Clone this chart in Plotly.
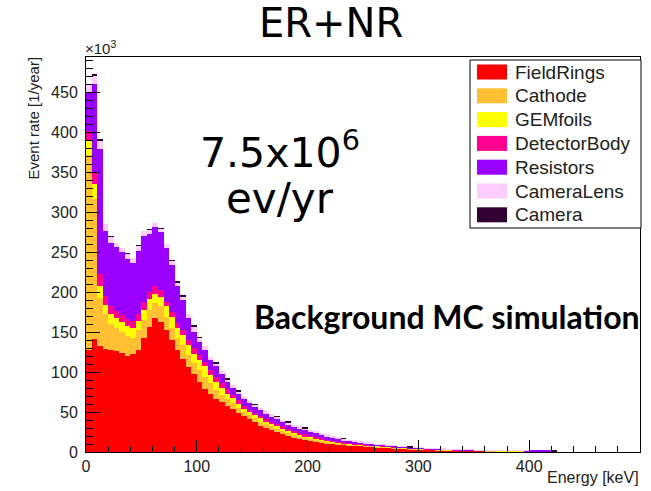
import plotly.graph_objects as go

# ---------------- data (event rate in units of 10^3 / year, 5 keV bins) ----------------
bin_width_kev = 5
energy_min_kev = 0
energy_max_kev = 500

field_rings = [127, 141, 132, 129, 128, 126, 124, 120, 122, 128,
               142, 156, 167, 163, 152, 140, 127, 116, 106, 97,
               88, 79, 72, 66, 62, 58, 54, 49, 45, 41,
               37, 33, 30, 27, 25, 22, 20, 18, 16, 15,
               14, 13, 12, 11, 10, 9.5, 9, 8.5, 8, 7.5,
               7, 6.5, 6, 5.5, 5, 4.6, 4.2, 3.9, 3.6, 3.3,
               3.0, 2.8, 2.6, 2.4, 2.2, 2.0, 1.9, 1.7, 1.6, 1.5,
               1.4, 1.3, 1.2, 1.1, 1.0, 0.9, 0.8, 0.7, 0.6, 0.5,
               0.4, 0.4, 0.3, 0.3, 0.2]

cathode = [244, 176, 60, 43, 32, 29, 26, 25, 21, 24,
           23, 22, 19, 19, 17, 15, 15, 18, 15, 14,
           14, 15, 14, 12, 9, 8, 7, 6, 5, 5,
           5, 5, 5, 5, 4, 4, 4, 4, 4, 3,
           3, 3, 2, 2, 2, 1.5, 1, 1, 1, 1,
           1, 1, 1, 1, 1, 0.8, 0.8, 0.7, 0.6, 0.6,
           0.6, 0.5, 0.5, 0.4, 0.4, 0.4, 0.3, 0.3, 0.3, 0.3,
           0.2, 0.2, 0.2, 0.2, 0.2, 0.2, 0.2, 0.2, 0.2, 0.2,
           0.2, 0.1, 0.1, 0.1, 0.1]

gem_foils = [19, 18, 15, 12, 12, 12, 12, 12, 12, 12,
             13, 13, 12, 12, 13, 14, 13, 12, 13, 12,
             13, 13, 10, 10, 9, 7, 6, 5, 4, 4,
             4, 4, 3, 3, 3, 3, 3, 2, 2, 2,
             2, 1, 2, 1, 1, 1, 1, 0.5, 0.5, 0.5,
             0.5, 0.5, 0.5, 0.5, 0.5, 0.6, 0.5, 0.4, 0.4, 0.3,
             0.3, 0.3, 0.2, 0.3, 0.2, 0.2, 0.2, 0.2, 0.2, 0.1,
             0.2, 0.2, 0.2, 0.2, 0.2, 0.4, 0.5, 0.5, 0.5, 0.5,
             0.2, 0.2, 0.2, 0.1, 0.1]

detector_body = [12, 15, 15, 11, 11, 9, 9, 9, 9, 9,
                 9, 9, 9, 8, 6, 6, 6, 6, 6, 7,
                 6, 6, 6, 6, 6, 6, 4, 5, 4, 3,
                 3, 3, 3, 3, 3, 3, 2, 2, 2, 2,
                 1, 2, 1, 1, 1, 1, 1, 1, 0.5, 0.5,
                 0.5, 0.5, 0.5, 0.5, 0.5, 0.3, 0.3, 0.3, 0.3, 0.3,
                 0.2, 0.2, 0.2, 0.1, 0.2, 0.2, 0.2, 0.2, 0.1, 0.1,
                 0.1, 0.1, 0.1, 0.1, 0.1, 0.1, 0, 0, 0, 0,
                 0.1, 0.1, 0.1, 0.1, 0.1]

resistors = [48, 110, 157, 82, 79, 80, 79, 76, 72, 79,
             83, 73, 75, 73, 67, 59, 46, 38, 27, 20,
             17, 15, 13, 13, 11, 8, 9, 8, 8, 8,
             7, 7, 7, 7, 6, 6, 6, 6, 6, 6,
             6, 5, 5, 5, 4, 4, 3, 3, 3, 2.5,
             2, 1.5, 1.5, 1.5, 1, 1.2, 1.2, 1.1, 1.0, 0.9,
             0.9, 0.8, 0.7, 0.7, 0.6, 0.5, 0.5, 0.5, 0.5, 0.5,
             0.4, 0.3, 0.3, 0.3, 0.3, 0.1, 0.1, 0.1, 0.1, 0.1,
             0.6, 0.7, 0.7, 0.7, 0.7]

camera_lens = [9, 11, 11, 8, 7, 5, 5, 6, 7, 6,
               6, 5, 5, 4, 5, 5, 5, 5, 5, 7,
               5, 4, 4, 4, 4, 4, 4, 3, 3, 3,
               3, 3, 3, 2, 3, 2, 2, 2, 2, 2,
               2, 2, 2, 2, 2, 1, 1.5, 1, 1, 1,
               1, 1, 0.5, 0.5, 0.5, 0.5, 0.4, 0.4, 0.3, 0.3,
               0.2, 0.2, 0.2, 0.2, 0.2, 0.2, 0.1, 0.1, 0.1, 0.1,
               0.1, 0.1, 0.1, 0.1, 0.1, 0.1, 0.1, 0.1, 0.1, 0.1,
               0, 0, 0, 0, 0]

camera = [0.8, 0.8, 0.8, 0, 0.8, 0, 0, 0.8, 0, 0.8,
          0, 0.8, 0, 0.8, 0, 0.8, 0.8, 0.8, 0, 0.8,
          0.8, 0, 0, 0.8, 0, 0.8, 0, 0.8, 0, 0,
          0.8, 0, 0, 0, 0.8, 0, 0.8, 0, 0, 0.8,
          0, 0, 0, 0, 0, 0, 0.8, 0, 0, 0,
          0, 0, 0, 0, 0, 0, 0, 0, 0.8, 0,
          0, 0, 0, 0, 0, 0, 0, 0, 0, 0,
          0, 0, 0, 0, 0, 0, 0, 0, 0, 0,
          0, 0, 0, 0, 0.8]

component_names = ["FieldRings", "Cathode", "GEMfoils", "DetectorBody",
                   "Resistors", "CameraLens", "Camera"]
component_values = [field_rings, cathode, gem_foils, detector_body,
                    resistors, camera_lens, camera]
component_colors = ["#ff0000", "#ffc133", "#ffff00", "#ff0090",
                    "#9900ff", "#ffccff", "#330033"]

y_tick_values = [0, 50, 100, 150, 200, 250, 300, 350, 400, 450]
x_tick_values = [0, 100, 200, 300, 400, 500]

# ---------------- figure ----------------
W, H = 651, 491
PL, PR, PT, PB = 86, 640, 57, 452   # plot area in pixels


def px(x):
    return (x - PL) / (PR - PL)


def py(y):
    return (PB - y) / (PB - PT)


n_bins = len(field_rings)
bin_centers = [energy_min_kev + bin_width_kev * (i + 0.5) for i in range(n_bins)]

fig = go.Figure()
for name, vals, col in zip(component_names, component_values, component_colors):
    fig.add_trace(go.Bar(
        x=bin_centers, y=vals, width=bin_width_kev, name=name,
        marker=dict(color=col, line=dict(width=0)),
        showlegend=False, hoverinfo="x+y+name",
    ))

tick_font = dict(family="Liberation Sans, Arial, sans-serif", size=16, color="#222222")

fig.update_layout(
    width=W, height=H,
    margin=dict(l=PL, r=W - PR, t=PT, b=H - PB, pad=0),
    paper_bgcolor="white", plot_bgcolor="white",
    barmode="stack", bargap=0,
    xaxis=dict(
        range=[energy_min_kev, energy_max_kev], tickvals=x_tick_values,
        ticks="inside", ticklen=12, tickwidth=1, tickcolor="black",
        minor=dict(ticks="inside", ticklen=6, dtick=20, tick0=0, tickcolor="black", showgrid=False),
        showline=True, linecolor="black", linewidth=1, mirror=True,
        showgrid=False, zeroline=False, tickfont=tick_font,
    ),
    yaxis=dict(
        range=[0, 494], tickvals=y_tick_values,
        ticks="inside", ticklen=14, tickwidth=1, tickcolor="black",
        minor=dict(ticks="inside", ticklen=7, dtick=10, tick0=0, tickcolor="black", showgrid=False),
        showline=True, linecolor="black", linewidth=1, mirror=True,
        showgrid=False, zeroline=False, tickfont=tick_font, ticklabelstandoff=4,
    ),
)

ann = []
# title
ann.append(dict(x=px(331), y=py(23), xref="paper", yref="paper", text="ER+NR",
                showarrow=False, xanchor="center", yanchor="middle",
                font=dict(family="DejaVu Sans", size=40, color="black")))
# exponent label
ann.append(dict(x=px(83), y=py(47), xref="paper", yref="paper", text="×10<sup>3</sup>",
                showarrow=False, xanchor="left", yanchor="middle",
                font=dict(family="Liberation Sans, Arial", size=15, color="#222222")))
# axis titles
ann.append(dict(x=px(33), y=py(55), xref="paper", yref="paper", text="Event rate [1/year]",
                showarrow=False, xanchor="center", yanchor="top", textangle=-90,
                font=dict(family="Liberation Sans, Arial", size=15, color="#222222")))
ann.append(dict(x=px(641), y=py(478), xref="paper", yref="paper", text="Energy [keV]",
                showarrow=False, xanchor="right", yanchor="middle",
                font=dict(family="Liberation Sans, Arial", size=16, color="#222222")))
# big texts
ann.append(dict(x=px(280), y=py(150), xref="paper", yref="paper", text="7.5x10<sup>6</sup>",
                showarrow=False, xanchor="center", yanchor="middle",
                font=dict(family="DejaVu Sans", size=41, color="black")))
ann.append(dict(x=px(280), y=py(198), xref="paper", yref="paper", text="ev/yr",
                showarrow=False, xanchor="center", yanchor="middle",
                font=dict(family="DejaVu Sans", size=42, color="black")))
ann.append(dict(x=px(447), y=py(316), xref="paper", yref="paper", text="<b>Background MC simulation</b>",
                showarrow=False, xanchor="center", yanchor="middle",
                font=dict(family="Lato", size=32, color="black")))

# custom legend (ROOT style)
shapes = []
shapes.append(dict(type="rect", xref="paper", yref="paper",
                   x0=px(470), x1=px(641), y0=py(228), y1=py(60),
                   line=dict(color="black", width=1), fillcolor="white", layer="above"))
row0, row_step = 72, 23.8
for i, (name, col) in enumerate(zip(component_names, component_colors)):
    cy = row0 + i * row_step
    shapes.append(dict(type="rect", xref="paper", yref="paper",
                       x0=px(477), x1=px(507), y0=py(cy + 7.5), y1=py(cy - 7.5),
                       line=dict(color=col, width=0), fillcolor=col, layer="above"))
    ann.append(dict(x=px(513), y=py(cy), xref="paper", yref="paper", text=name,
                    showarrow=False, xanchor="left", yanchor="middle",
                    font=dict(family="Liberation Sans, Arial", size=19, color="#222222")))

fig.update_layout(annotations=ann, shapes=shapes)

fig.write_html(
    "out.html",
    config={"displayModeBar": False},
    post_script="document.body.style.margin='0';document.body.style.overflow='hidden';",
)
